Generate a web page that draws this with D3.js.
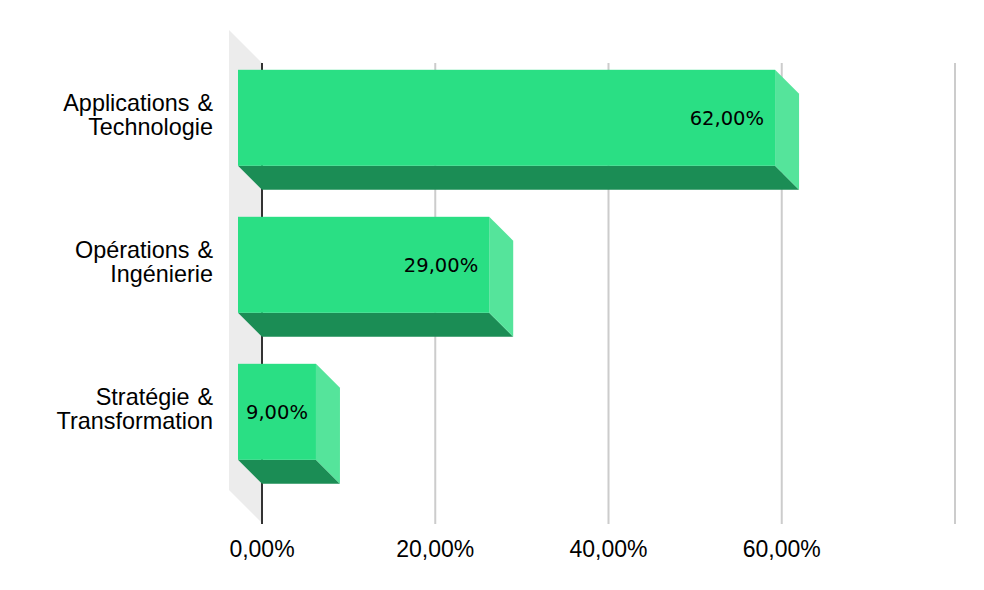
<!DOCTYPE html>
<html>
<head>
<meta charset="utf-8">
<script src="https://cdn.jsdelivr.net/npm/d3@7"></script>
<style>
  html, body { margin: 0; padding: 0; background: #fff; }
  svg { display: block; }
</style>
</head>
<body>
<svg id="chart"></svg>
<script>
// data
const categories = ["Applications & Technologie", "Opérations & Ingénierie", "Stratégie & Transformation"];
const shares = [0.62, 0.29, 0.09];
const valueLabels = ["62,00%", "29,00%", "9,00%"];
const gridValues = [0, 0.2, 0.4, 0.6, 0.8];
const tickLabels = ["0,00%", "20,00%", "40,00%", "60,00%"];

const colors = {
  front: "#2adf84",
  side: "#55e49b",
  bottom: "#1b8d55",
  wall: "#ececec",
  grid: "#cccccc",
  axis: "#333333",
};

const width = 984;
const height = 590;
const plot = { left: 262, right: 955, top: 63, bottom: 523 };
const depth = 24;      // bar depth (3d offset)
const wallDepth = 33;  // left wall depth

const svg = d3.select("#chart").attr("width", width).attr("height", height);

const x = d3.scaleLinear().domain([0, 0.8]).range([plot.left, plot.right]);

const y = d3
  .scaleBand()
  .domain(categories)
  .range([plot.top, plot.bottom])
  .paddingInner(0.347)
  .paddingOuter(0.238)
  .align(0.44);

// left wall
svg
  .append("polygon")
  .attr("points", [
    [plot.left - wallDepth, plot.top - wallDepth],
    [plot.left, plot.top],
    [plot.left, plot.bottom],
    [plot.left - wallDepth, plot.bottom - wallDepth],
  ].join(" "))
  .attr("fill", colors.wall);

// gridlines
svg
  .append("g")
  .attr("class", "x-grid")
  .selectAll("line")
  .data(gridValues.slice(1))
  .join("line")
  .attr("x1", (d) => x(d))
  .attr("x2", (d) => x(d))
  .attr("y1", plot.top)
  .attr("y2", plot.bottom + 1)
  .attr("stroke", colors.grid)
  .attr("stroke-width", 2);

// zero axis line
svg
  .append("line")
  .attr("x1", x(0))
  .attr("x2", x(0))
  .attr("y1", plot.top)
  .attr("y2", plot.bottom + 1)
  .attr("stroke", colors.axis)
  .attr("stroke-width", 2);

// tick labels
svg
  .append("g")
  .attr("class", "x-axis")
  .selectAll("text")
  .data(tickLabels)
  .join("text")
  .attr("x", (d, i) => x(gridValues[i]))
  .attr("y", 557)
  .attr("text-anchor", "middle")
  .style("font-family", "'Liberation Sans', Arial, sans-serif")
  .style("font-size", "23px")
  .style("fill", "#000")
  .text((d) => d);

const bars = categories.map((c, i) => ({ cat: c, value: shares[i], label: valueLabels[i] }));

const barGroup = svg
  .append("g")
  .attr("class", "bars")
  .selectAll("g")
  .data(bars)
  .join("g");

// bottom face
barGroup
  .append("polygon")
  .attr("points", (d) => {
    const x0 = x(0), x1 = x(d.value), y1 = y(d.cat) + y.bandwidth();
    return [[x0 - depth, y1 - depth], [x1 - depth, y1 - depth], [x1, y1], [x0, y1]].join(" ");
  })
  .attr("fill", colors.bottom);

// side face
barGroup
  .append("polygon")
  .attr("points", (d) => {
    const x1 = x(d.value), y0 = y(d.cat), y1 = y0 + y.bandwidth();
    return [[x1 - depth, y0 - depth], [x1, y0], [x1, y1], [x1 - depth, y1 - depth]].join(" ");
  })
  .attr("fill", colors.side);

// front face
barGroup
  .append("rect")
  .attr("x", x(0) - depth)
  .attr("y", (d) => y(d.cat) - depth)
  .attr("width", (d) => x(d.value) - x(0))
  .attr("height", y.bandwidth())
  .attr("fill", colors.front);

// value labels, right aligned inside the front face
barGroup
  .append("text")
  .attr("y", (d) => y(d.cat) - depth + y.bandwidth() / 2 + 7)
  .attr("text-anchor", "end")
  .style("font-family", "'DejaVu Sans', sans-serif")
  .style("font-size", "19.5px")
  .style("fill", "#000")
  .text((d) => d.label)
  .each(function (d) {
    const w = this.getComputedTextLength();
    const left = x(0) - depth;
    const right = x(d.value) - depth;
    d3.select(this).attr("x", Math.max(right - 11, left + 8 + w));
  });

// category labels (two lines, split after "&")
svg
  .append("g")
  .attr("class", "y-axis")
  .selectAll("text")
  .data(categories)
  .join("text")
  .attr("text-anchor", "end")
  .style("font-family", "'Liberation Sans', Arial, sans-serif")
  .style("font-size", "23.4px")
  .style("fill", "#000")
  .each(function (d) {
    const lines = d.replace(" & ", " &\n").split("\n");
    const cy = y(d) - depth + y.bandwidth() / 2;
    const lineH = 23.3;
    d3.select(this)
      .selectAll("tspan")
      .data(lines)
      .join("tspan")
      .attr("x", 213)
      .attr("y", (t, i) => cy + (i - (lines.length - 1) / 2) * lineH + 5.3)
      .style("word-spacing", "1.5px")
      .text((t) => t);
  });
</script>
</body>
</html>
